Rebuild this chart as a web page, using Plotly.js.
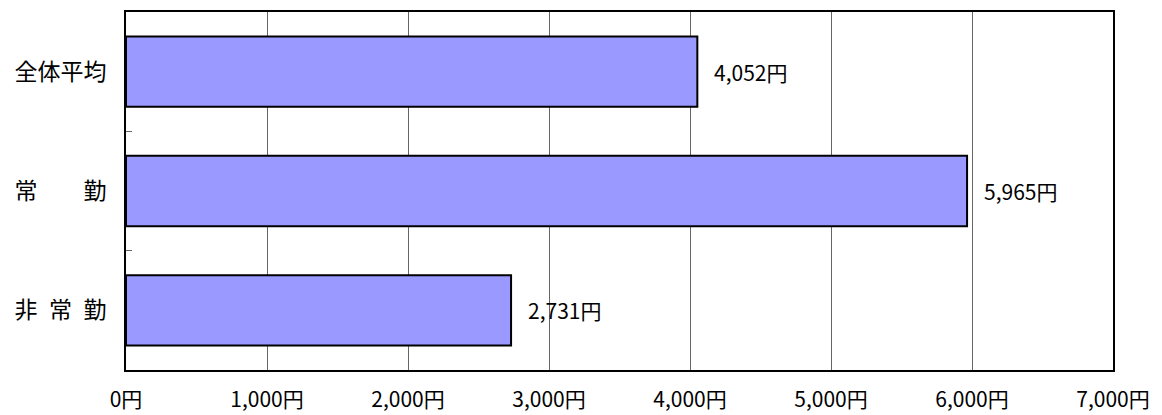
<!DOCTYPE html>
<html><head><meta charset="utf-8">
<script src="https://cdn.plot.ly/plotly-3.0.1.min.js"></script>
<style>body{margin:0;background:#fff}#chart{width:1162px;height:415px}</style>
</head><body><div id="chart"></div>
<script>
const categories = ["全体平均", "常　　勤", "非\u2002常\u2002勤"];
const values = [4052, 5965, 2731];
const xTickValues = [0, 1000, 2000, 3000, 4000, 5000, 6000, 7000];
const unit = "円";

const FONT = '"Noto Sans CJK JP", "Noto Sans", sans-serif';
const fmt = v => v.toLocaleString('en-US') + unit;

const trace = {
  type: 'bar', orientation: 'h',
  x: values, y: categories,
  width: 0.59,
  marker: {color: '#9999FF', line: {color: '#000', width: 2}},
  hoverinfo: 'none'
};

const annotations = values.map((v, i) => ({
  x: v, y: categories[i], xref: 'x', yref: 'y',
  text: fmt(v), showarrow: false, xanchor: 'left', xshift: 15,
  font: {family: FONT, size: 21, color: '#000'}
}));

const layout = {
  width: 1162, height: 415,
  margin: {l: 126, r: 49, t: 12, b: 45},
  paper_bgcolor: '#fff', plot_bgcolor: '#fff',
  showlegend: false,
  font: {family: FONT, size: 21, color: '#000'},
  xaxis: {
    range: [0, 7000], tickvals: xTickValues,
    ticktext: xTickValues.map(fmt),
    showgrid: true, gridcolor: '#666666', gridwidth: 1,
    zeroline: false, showline: true, mirror: true, linecolor: '#000', linewidth: 2,
    ticks: '', ticklabelstandoff: 10,
    tickfont: {family: FONT, size: 21, color: '#000'},
    fixedrange: true
  },
  yaxis: {
    autorange: 'reversed', type: 'category',
    showgrid: false, zeroline: false,
    showline: true, mirror: true, linecolor: '#000', linewidth: 2,
    ticks: 'inside', tickson: 'boundaries', ticklen: 6, tickcolor: '#666666', tickwidth: 1,
    ticklabelstandoff: 13,
    tickfont: {family: FONT, size: 23, color: '#000'},
    fixedrange: true
  },
  annotations: annotations
};

Plotly.newPlot('chart', [trace], layout, {staticPlot: true, displayModeBar: false});
</script></body></html>
